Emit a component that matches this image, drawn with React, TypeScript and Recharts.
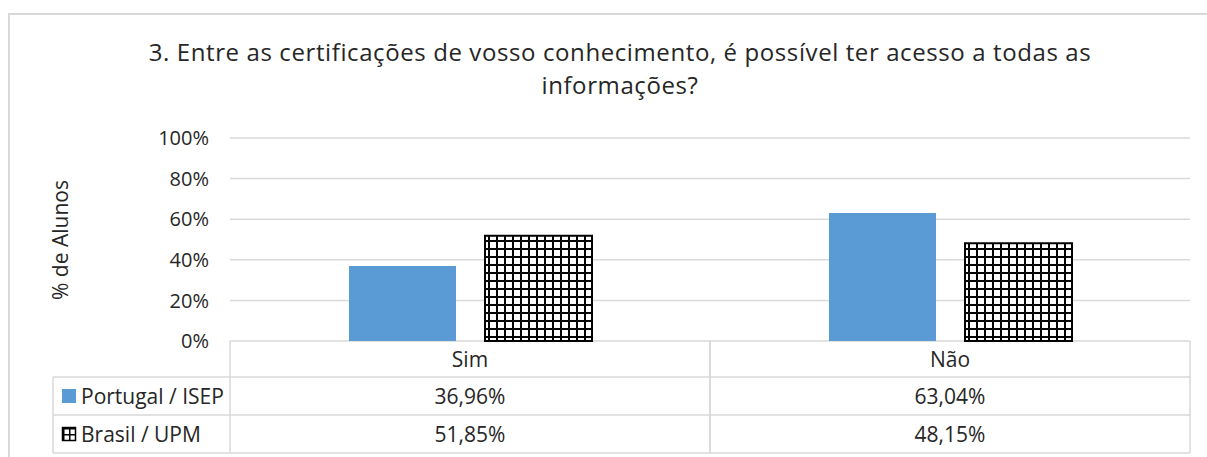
import { BarChart, Bar, XAxis, YAxis, CartesianGrid } from "recharts";

const categories = ["Sim", "Não"];
const portugal = [36.96, 63.04];
const brasil = [51.85, 48.15];
const seriesNames = ["Portugal / ISEP", "Brasil / UPM"];
const yTicks = [0, 20, 40, 60, 80, 100];

const data = categories.map((name, i) => ({ name, portugal: portugal[i], brasil: brasil[i] }));

const W = 1207;
const H = 457;
const PLOT_LEFT = 230;
const PLOT_RIGHT = 1190;
const PLOT_TOP = 138;
const PLOT_BOTTOM = 341;
const CELL_W = (PLOT_RIGHT - PLOT_LEFT) / categories.length;
const ROWS = [341, 377, 415, 453];
const LEGEND_LEFT = 53;
const FONT = "'Open Sans', sans-serif";
const TEXT = "#262626";
const LINE = "#d9d9d9";

const fmt = (v: number) => v.toFixed(2).replace(".", ",") + "%";

function TableTick(props: any) {
  const { x, payload, index } = props;
  const left = x - CELL_W / 2;
  const right = x + CELL_W / 2;
  const i = index as number;
  const mid = (a: number, b: number) => (a + b) / 2;
  return (
    <g fontFamily={FONT} fontSize={21} fill={TEXT}>
      <line x1={left} x2={left} y1={ROWS[0]} y2={ROWS[3]} stroke={LINE} strokeWidth={1.5} />
      <line x1={right} x2={right} y1={ROWS[0]} y2={ROWS[3]} stroke={LINE} strokeWidth={1.5} />
      {ROWS.slice(1).map((r) => (
        <line key={r} x1={left} x2={right} y1={r} y2={r} stroke={LINE} strokeWidth={1.5} />
      ))}
      <text x={x} y={mid(ROWS[0], ROWS[1])} textAnchor="middle" dominantBaseline="central">
        {payload.value}
      </text>
      <text x={x} y={mid(ROWS[1], ROWS[2])} textAnchor="middle" dominantBaseline="central">
        {fmt(portugal[i])}
      </text>
      <text x={x} y={mid(ROWS[2], ROWS[3])} textAnchor="middle" dominantBaseline="central">
        {fmt(brasil[i])}
      </text>
      {i === 0 && (
        <g>
          <line x1={LEGEND_LEFT} x2={LEGEND_LEFT} y1={ROWS[1]} y2={ROWS[3]} stroke={LINE} strokeWidth={1.5} />
          {ROWS.slice(1).map((r) => (
            <line key={"l" + r} x1={LEGEND_LEFT} x2={left} y1={r} y2={r} stroke={LINE} strokeWidth={1.5} />
          ))}
          <rect x={62} y={mid(ROWS[1], ROWS[2]) - 7} width={14} height={14} fill="#5B9BD5" />
          <text x={81} y={mid(ROWS[1], ROWS[2])} dominantBaseline="central">
            {seriesNames[0]}
          </text>
          <rect
            x={62.5}
            y={mid(ROWS[2], ROWS[3]) - 6.5}
            width={13}
            height={13}
            fill="url(#gridHatchKey)"
            stroke="#000"
            strokeWidth={1.5}
          />
          <text x={81} y={mid(ROWS[2], ROWS[3])} dominantBaseline="central">
            {seriesNames[1]}
          </text>
        </g>
      )}
    </g>
  );
}

export default function App() {
  return (
    <div style={{ position: "absolute", left: 0, top: 0, width: W, height: H, background: "#fff" }}>
      <div
        style={{
          position: "absolute",
          left: 8,
          top: 13,
          right: 0,
          bottom: 0,
          borderTop: `2px solid ${LINE}`,
          borderLeft: `2px solid ${LINE}`,
        }}
      />
      <div
        style={{
          position: "absolute",
          left: 30,
          width: 1180,
          top: 35,
          textAlign: "center",
          fontFamily: FONT,
          fontSize: 24,
          letterSpacing: 0.6,
          lineHeight: "33px",
          color: TEXT,
        }}
      >
        3. Entre as certificações de vosso conhecimento, é possível ter acesso a todas as
        <br />
        informações?
      </div>
      <div
        style={{
          position: "absolute",
          left: 60,
          top: 240,
          transform: "translate(-50%, -50%) rotate(-90deg)",
          fontFamily: FONT,
          fontSize: 21,
          color: TEXT,
          whiteSpace: "nowrap",
        }}
      >
        % de Alunos
      </div>
      <BarChart
        width={W}
        height={H}
        data={data}
        margin={{ top: PLOT_TOP, right: W - PLOT_RIGHT, bottom: 0, left: PLOT_LEFT - 60 }}
        barSize={107}
        barGap={29}
        style={{ position: "absolute", left: 0, top: 0 }}
      >
        <defs>
          <pattern id="gridHatch" width="8" height="8" patternUnits="userSpaceOnUse">
            <rect width="8" height="8" fill="#fff" />
            <path d="M0 1H8M1 0V8" stroke="#000" strokeWidth={2} />
          </pattern>
          <pattern id="gridHatchKey" width="6" height="6" patternUnits="userSpaceOnUse" x="63" y="428">
            <rect width="6" height="6" fill="#fff" />
            <path d="M0 0.75H6M0.75 0V6" stroke="#000" strokeWidth={1.5} />
          </pattern>
        </defs>
        <CartesianGrid vertical={false} stroke={LINE} strokeWidth={1.5} />
        <XAxis
          dataKey="name"
          height={H - PLOT_BOTTOM}
          axisLine={false}
          tickLine={false}
          tickSize={0}
          tickMargin={0}
          interval={0}
          tick={(p: any) => <TableTick {...p} />}
        />
        <YAxis
          width={60}
          domain={[0, 100]}
          ticks={yTicks}
          axisLine={false}
          tickLine={false}
          tickSize={0}
          tickMargin={21}
          tickFormatter={(v: number) => `${v}%`}
          tick={{ fill: TEXT, fontFamily: FONT, fontSize: 20 }}
        />
        <Bar dataKey="portugal" fill="#5B9BD5" isAnimationActive={false} />
        <Bar dataKey="brasil" fill="url(#gridHatch)" stroke="#000" strokeWidth={2} isAnimationActive={false} />
      </BarChart>
    </div>
  );
}
